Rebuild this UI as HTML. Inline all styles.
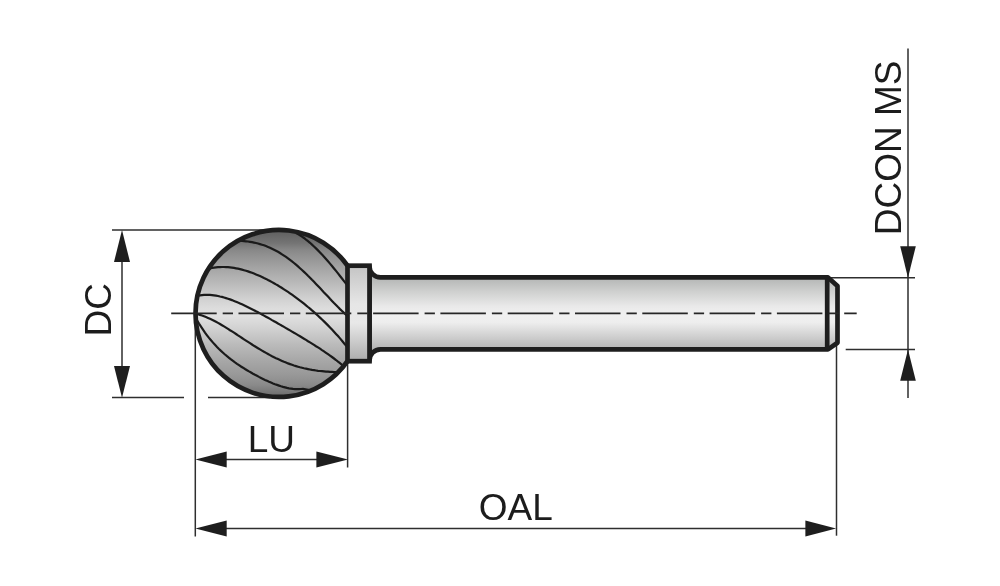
<!DOCTYPE html>
<html><head><meta charset="utf-8"><style>
html,body{margin:0;padding:0;background:#fff;width:1000px;height:586px;overflow:hidden}
svg{display:block;will-change:transform}
text{font-family:"Liberation Sans",sans-serif;font-size:37px;fill:#1c1c1c}
</style></head><body>
<svg width="1000" height="586" viewBox="0 0 1000 586">
<defs>
<linearGradient id="gBall" x1="0" y1="230" x2="0" y2="397" gradientUnits="userSpaceOnUse">
<stop offset="0.000" stop-color="#5e5e5e"/>
<stop offset="0.078" stop-color="#747474"/>
<stop offset="0.120" stop-color="#888888"/>
<stop offset="0.180" stop-color="#989898"/>
<stop offset="0.251" stop-color="#aaaaaa"/>
<stop offset="0.329" stop-color="#bcbcbc"/>
<stop offset="0.407" stop-color="#d0d0d0"/>
<stop offset="0.467" stop-color="#dcdcdc"/>
<stop offset="0.515" stop-color="#e0e0e0"/>
<stop offset="0.569" stop-color="#d6d6d6"/>
<stop offset="0.629" stop-color="#c8c8c8"/>
<stop offset="0.689" stop-color="#bababa"/>
<stop offset="0.778" stop-color="#a8a8a8"/>
<stop offset="0.868" stop-color="#989898"/>
<stop offset="0.928" stop-color="#8a8a8a"/>
<stop offset="1.000" stop-color="#6a6a6a"/>
</linearGradient>
<linearGradient id="gShank" x1="0" y1="277" x2="0" y2="350" gradientUnits="userSpaceOnUse">
<stop offset="0" stop-color="#b2b4b3"/>
<stop offset="0.2" stop-color="#cfd0cf"/>
<stop offset="0.4" stop-color="#e9e9e9"/>
<stop offset="0.5" stop-color="#f0f0f0"/>
<stop offset="0.62" stop-color="#eeeeee"/>
<stop offset="0.85" stop-color="#cacaca"/>
<stop offset="1" stop-color="#b2b2b2"/>
</linearGradient>
<linearGradient id="gCollar" x1="0" y1="266" x2="0" y2="361" gradientUnits="userSpaceOnUse">
<stop offset="0" stop-color="#c4c4c4"/>
<stop offset="0.4" stop-color="#e6e6e6"/>
<stop offset="0.6" stop-color="#e8e8e8"/>
<stop offset="1" stop-color="#acacac"/>
</linearGradient>
<clipPath id="cBall"><path d="M347.5 265.7 A83.5 83.5 0 1 0 347.5 361.2 Z"/></clipPath>
</defs>

<!-- dimension / extension lines -->
<g stroke="#2e2e2e" stroke-width="1.5" fill="none">
<line x1="112" y1="230" x2="270" y2="230"/>
<line x1="112" y1="397.5" x2="184" y2="397.5"/>
<line x1="208" y1="397.5" x2="270" y2="397.5"/>
<line x1="122" y1="240" x2="122" y2="387"/>
<line x1="195.3" y1="313" x2="195.3" y2="536.5"/>
<line x1="347.6" y1="361" x2="347.6" y2="467.5"/>
<line x1="205" y1="459.4" x2="337" y2="459.4"/>
<line x1="205" y1="528.4" x2="826" y2="528.4"/>
<line x1="836.5" y1="343" x2="836.5" y2="535.7"/>
<line x1="828" y1="277.7" x2="915" y2="277.7"/>
<line x1="845.7" y1="349.4" x2="915" y2="349.4"/>
<line x1="908" y1="48.5" x2="908" y2="397.9"/>
</g>
<!-- arrows -->
<g fill="#1e1e1e">
<polygon points="122,230 114,262 130,262"/>
<polygon points="122,397.8 114,366 130,366"/>
<polygon points="195.4,459.4 226.7,451.4 226.7,467.4"/>
<polygon points="348,459.4 316.4,451.4 316.4,467.4"/>
<polygon points="195.4,528.4 226.7,520.4 226.7,536.4"/>
<polygon points="836.1,528.4 805.4,520.4 805.4,536.4"/>
<polygon points="908,277.7 900.2,246.2 915.8,246.2"/>
<polygon points="908,349.4 900.2,380.8 915.8,380.8"/>
</g>

<!-- shank -->
<path d="M369.5 266.4 A11 11 0 0 0 380.5 277.4 L828 277.4 L837.5 286 L837.5 342.8 L828 349.4 L380.5 349.4 A11 11 0 0 0 369.5 360.4 Z" fill="url(#gShank)" stroke="#1e1e1e" stroke-width="4.7" stroke-linejoin="round"/>
<line x1="827.2" y1="277.4" x2="827.2" y2="349.4" stroke="#1e1e1e" stroke-width="4.7"/>


<!-- ball -->
<path d="M347.5 265.7 A83.5 83.5 0 1 0 347.5 361.2 Z" fill="url(#gBall)"/>
<g clip-path="url(#cBall)" stroke="#1a1a1a" stroke-width="2.2" fill="none">
<path d="M296.0 233.0 L298.0 234.1 L300.0 235.3 L302.0 236.6 L304.0 238.0 L306.0 239.6 L308.0 241.1 L310.0 242.8 L312.0 244.6 L314.0 246.5 L316.0 248.4 L318.0 250.4 L320.0 252.4 L322.0 254.6 L324.0 256.7 L326.0 259.0 L328.0 261.3 L330.0 263.6 L332.0 266.0 L334.0 268.5 L336.0 270.9 L338.0 273.4 L340.0 276.0 L342.0 278.5 L344.0 281.1 L346.0 283.7 L348.0 286.4 L350.0 289.0"/>
<path d="M236.0 240.6 L238.0 240.7 L240.0 240.8 L242.0 240.9 L244.0 241.1 L246.0 241.3 L248.0 241.5 L250.0 241.8 L252.0 242.2 L254.0 242.6 L256.0 243.0 L258.0 243.5 L260.0 244.1 L262.0 244.7 L264.0 245.3 L266.0 246.1 L268.0 246.9 L270.0 247.7 L272.0 248.7 L274.0 249.7 L276.0 250.7 L278.0 251.8 L280.0 253.0 L282.0 254.3 L284.0 255.6 L286.0 256.9 L288.0 258.4 L290.0 259.9 L292.0 261.4 L294.0 263.0 L296.0 264.7 L298.0 266.4 L300.0 268.2 L302.0 270.0 L304.0 271.9 L306.0 273.8 L308.0 275.8 L310.0 277.7 L312.0 279.8 L314.0 281.8 L316.0 283.9 L318.0 286.0 L320.0 288.1 L322.0 290.2 L324.0 292.4 L326.0 294.5 L328.0 296.6 L330.0 298.8 L332.0 300.9 L334.0 303.0 L336.0 305.0 L338.0 307.1 L340.0 309.1 L342.0 311.0 L344.0 312.9 L346.0 314.8 L348.0 316.6 L350.0 318.3"/>
<path d="M208.0 268.9 L210.0 268.4 L212.0 268.0 L214.0 267.7 L216.0 267.4 L218.0 267.2 L220.0 267.1 L222.0 267.0 L224.0 267.0 L226.0 267.1 L228.0 267.2 L230.0 267.4 L232.0 267.6 L234.0 267.9 L236.0 268.3 L238.0 268.7 L240.0 269.1 L242.0 269.6 L244.0 270.2 L246.0 270.8 L248.0 271.4 L250.0 272.1 L252.0 272.8 L254.0 273.6 L256.0 274.4 L258.0 275.2 L260.0 276.1 L262.0 277.0 L264.0 278.0 L266.0 278.9 L268.0 280.0 L270.0 281.0 L272.0 282.1 L274.0 283.2 L276.0 284.4 L278.0 285.5 L280.0 286.8 L282.0 288.0 L284.0 289.3 L286.0 290.6 L288.0 291.9 L290.0 293.3 L292.0 294.7 L294.0 296.1 L296.0 297.6 L298.0 299.1 L300.0 300.6 L302.0 302.1 L304.0 303.7 L306.0 305.3 L308.0 307.0 L310.0 308.6 L312.0 310.4 L314.0 312.1 L316.0 313.9 L318.0 315.7 L320.0 317.6 L322.0 319.5 L324.0 321.4 L326.0 323.4 L328.0 325.4 L330.0 327.4 L332.0 329.5 L334.0 331.7 L336.0 333.9 L338.0 336.1 L340.0 338.4 L342.0 340.8 L344.0 343.2 L346.0 345.6 L348.0 348.1 L350.0 350.7"/>
<path d="M196.0 296.1 L198.0 295.7 L200.0 295.3 L202.0 295.1 L204.0 294.9 L206.0 294.8 L208.0 294.9 L210.0 294.9 L212.0 295.1 L214.0 295.4 L216.0 295.7 L218.0 296.0 L220.0 296.5 L222.0 296.9 L224.0 297.5 L226.0 298.1 L228.0 298.7 L230.0 299.4 L232.0 300.1 L234.0 300.9 L236.0 301.7 L238.0 302.6 L240.0 303.4 L242.0 304.3 L244.0 305.2 L246.0 306.2 L248.0 307.2 L250.0 308.2 L252.0 309.2 L254.0 310.2 L256.0 311.3 L258.0 312.3 L260.0 313.4 L262.0 314.5 L264.0 315.6 L266.0 316.7 L268.0 317.8 L270.0 318.9 L272.0 320.1 L274.0 321.2 L276.0 322.3 L278.0 323.5 L280.0 324.6 L282.0 325.8 L284.0 326.9 L286.0 328.1 L288.0 329.3 L290.0 330.4 L292.0 331.6 L294.0 332.8 L296.0 333.9 L298.0 335.1 L300.0 336.3 L302.0 337.5 L304.0 338.7 L306.0 339.9 L308.0 341.2 L310.0 342.4 L312.0 343.6 L314.0 344.9 L316.0 346.2 L318.0 347.4 L320.0 348.7 L322.0 350.1 L324.0 351.4 L326.0 352.8 L328.0 354.2 L330.0 355.6 L332.0 357.0 L334.0 358.5 L336.0 360.0 L338.0 361.6 L340.0 363.1 L342.0 364.8 L344.0 366.4"/>
<path d="M194.0 313.5 L196.0 313.9 L198.0 314.3 L200.0 314.9 L202.0 315.5 L204.0 316.2 L206.0 317.0 L208.0 317.9 L210.0 318.8 L212.0 319.7 L214.0 320.7 L216.0 321.8 L218.0 322.9 L220.0 324.0 L222.0 325.2 L224.0 326.4 L226.0 327.6 L228.0 328.9 L230.0 330.2 L232.0 331.4 L234.0 332.7 L236.0 334.0 L238.0 335.4 L240.0 336.7 L242.0 338.0 L244.0 339.3 L246.0 340.6 L248.0 341.9 L250.0 343.2 L252.0 344.5 L254.0 345.8 L256.0 347.0 L258.0 348.2 L260.0 349.4 L262.0 350.6 L264.0 351.8 L266.0 352.9 L268.0 354.0 L270.0 355.1 L272.0 356.2 L274.0 357.2 L276.0 358.2 L278.0 359.1 L280.0 360.0 L282.0 360.9 L284.0 361.8 L286.0 362.6 L288.0 363.4 L290.0 364.1 L292.0 364.8 L294.0 365.5 L296.0 366.1 L298.0 366.7 L300.0 367.3 L302.0 367.8 L304.0 368.3 L306.0 368.7 L308.0 369.1 L310.0 369.5 L312.0 369.9 L314.0 370.2 L316.0 370.5 L318.0 370.8 L320.0 371.0 L322.0 371.2 L324.0 371.4 L326.0 371.6 L328.0 371.7 L330.0 371.8 L332.0 371.9 L334.0 372.0 L336.0 372.1"/>
<path d="M195.0 316.7 L197.0 320.2 L199.0 323.6 L201.0 326.7 L203.0 329.7 L205.0 332.6 L207.0 335.3 L209.0 337.9 L211.0 340.3 L213.0 342.6 L215.0 344.8 L217.0 347.0 L219.0 349.0 L221.0 350.9 L223.0 352.7 L225.0 354.5 L227.0 356.2 L229.0 357.8 L231.0 359.4 L233.0 360.9 L235.0 362.4 L237.0 363.8 L239.0 365.1 L241.0 366.5 L243.0 367.7 L245.0 369.0 L247.0 370.2 L249.0 371.4 L251.0 372.5 L253.0 373.7 L255.0 374.8 L257.0 375.8 L259.0 376.9 L261.0 377.9 L263.0 378.9 L265.0 379.9 L267.0 380.8 L269.0 381.7 L271.0 382.5 L273.0 383.4 L275.0 384.2 L277.0 384.9 L279.0 385.6 L281.0 386.3 L283.0 386.9 L285.0 387.4 L287.0 387.9 L289.0 388.3 L291.0 388.6 L293.0 388.9 L295.0 389.1 L297.0 389.1 L299.0 389.1 L301.0 389.0 L303.0 388.8 L312 390.5"/>
</g>
<path d="M347.5 265.7 A83.5 83.5 0 1 0 347.5 361.2" fill="none" stroke="#1e1e1e" stroke-width="4.7"/>

<!-- collar -->
<rect x="347.5" y="265.7" width="22" height="95.5" fill="url(#gCollar)" stroke="#1e1e1e" stroke-width="4.7"/>

<!-- centerline -->
<line x1="171.2" y1="313.4" x2="856.7" y2="313.4" stroke="#262626" stroke-width="1.6" stroke-dasharray="45.5 6 10.3 5.5"/>

<!-- text -->
<text x="247.8" y="452.1">LU</text>
<text x="478.8" y="520.3">OAL</text>
<text transform="translate(111,336.5) rotate(-90)">DC</text>
<text transform="translate(901,235.2) rotate(-90)">DCON MS</text>
</svg>
</body></html>
